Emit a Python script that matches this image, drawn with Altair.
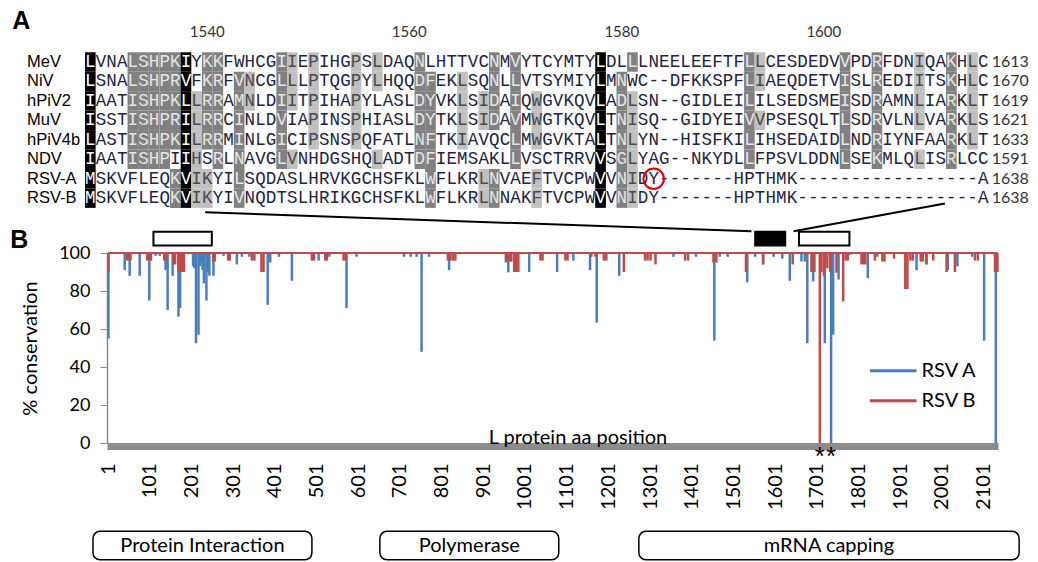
import altair as alt
import pandas as pd

# ------------------------------------------------------------------
# Panel A : alignment data
# ------------------------------------------------------------------
seq_names = ["MeV", "NiV", "hPiV2", "MuV", "hPiV4b", "NDV", "RSV-A", "RSV-B"]
seq_ends = [1613, 1670, 1619, 1621, 1633, 1591, 1638, 1638]
sequences = [
    "LVNALSHPKIYKKFWHCGIIEPIHGPSLDAQNLHTTVCNMVYTCYMTYLDLLLNEELEEFTFLLCESDEDVVPDRFDNIQAKHLC",
    "LSNALSHPRVFKRFVNCGLLLPTQGPYLHQQDFEKLSQNLLVTSYMIYLMNWC--DFKKSPFLIAEQDETVISLREDIITSKHLC",
    "IAATISHPKLLRRAMNLDIITPIHAPYLASLDYVKLSIDAIQWGVKQVLADLSN--GIDLEILILSEDSMEISDRAMNLIARKLT",
    "ISSTISHPRILRRCINLDVIAPINSPHIASLDYTKLSIDAVMWGTKQVLTNISQ--GIDYEIVVPSESQLTLSDRVLNLVARKLS",
    "LASTISHPKILRRMINLGICIPSNSPQFATLNFTKIAVQCLMWGVKTALTNLYN--HISFKILIHSEDAIDLNDRIYNFAARKLT",
    "IAATISHPIIHSRLNAVGLVNHDGSHQLADTDFIEMSAKLLVSCTRRVVSGLYAG--NKYDLLFPSVLDDNLSEKMLQLISRLCC",
    "MSKVFLEQKVIKYILSQDASLHRVKGCHSFKLWFLKRLNVAEFTVCPWVVNIDY-------HPTHMK-----------------A",
    "MSKVFLEQKVIKYIVNQDTSLHRIKGCHSFKLWFLKRLNNAKFTVCPWVVNIDY-------HPTHMK-----------------A",
]
ruler_labels = [1540, 1560, 1580, 1600]
ruler_columns = [11, 30, 50, 69]
# conservation class per alignment column, one character per sequence row
# '.' none, 'l' similar, 'd' conserved, 'b' identical
shading = {
    0: "bbbbbbbb", 4: "dddddd..", 5: "dddddd..", 6: "dddddd..", 7: "dddddd..",
    8: "ddddd.dd", 9: "bbbbbbbb", 10: "..llllll", 11: "ddddd.ll", 12: "dddddd..",
    14: ".ddddddd", 15: ".ll.....", 18: "dddddd..", 19: "lll..l..", 21: "lllll...",
    25: "lllll...", 27: "ll...l..", 31: "dddddd..", 32: ".ddddddd", 35: ".llll...",
    37: "..ll..ll", 38: "dddd..dd", 40: "dddddd..", 42: "..lll.ll", 48: "bbbbbbbb",
    50: ".ddddddd", 51: "d.llllll", 62: "dddddd..", 63: "ll.l....", 71: "dddddd..",
    74: "dddddd..", 78: "llll.l..", 81: "dddddd..", 83: "lllll...",
}
circled_row = 6
circled_col = 53

# ------------------------------------------------------------------
# Panel B : % conservation along the L protein
# ------------------------------------------------------------------
rsv_a_pos = [2, 41, 53, 77, 100, 115, 125, 139, 144, 156, 170, 174, 205, 208, 212, 218,
             222, 225, 228, 231, 237, 241, 244, 254, 278, 310, 322, 340, 384, 390, 411,
             442, 506, 532, 573, 597, 711, 727, 741, 753, 771, 819, 955, 961, 967, 1011,
             1078, 1117, 1157, 1173, 1227, 1357, 1411, 1455, 1468, 1487, 1534, 1553, 1572,
             1597, 1618, 1636, 1664, 1672, 1678, 1692, 1720, 1735, 1740, 1753, 1780, 1823,
             1846, 1940, 1963, 2015, 2038, 2073, 2102, 2130]
rsv_a_val = [55, 91, 88, 88, 75, 98.5, 98.5, 91, 70, 88, 66.5, 71, 93, 92, 52.5, 57,
             93, 95, 91, 84, 75, 90, 88, 88, 98.5, 94, 98, 98, 72.7, 95, 98,
             85.4, 96, 98, 71, 98, 98, 98, 98, 48, 98, 91, 95, 89.8, 95.5, 90,
             90, 96, 91, 63.4, 88, 98, 98, 53.9, 98, 98, 84.5, 98, 94,
             98, 97, 85.4, 95.5, 95.5, 52.5, 85, 52.5, 0, 57, 86, 99, 86.8,
             98, 91, 94, 91, 93, 98, 53.9, 0]
rsv_b_pos = [2, 47, 51, 55, 95, 100, 104, 136, 140, 158, 162, 170, 174, 178, 183, 253,
             257, 289, 293, 346, 352, 369, 374, 490, 495, 522, 526, 566, 571, 816, 822,
             828, 834, 956, 962, 968, 975, 980, 985, 1038, 1043, 1098, 1103, 1160, 1170,
             1190, 1196, 1238, 1289, 1295, 1302, 1314, 1385, 1392, 1453, 1460, 1531, 1572,
             1643, 1688, 1695, 1708, 1712, 1718, 1726, 1733, 1748, 1764, 1770, 1775, 1808,
             1812, 1817, 1840, 1858, 1863, 1886, 1913, 1918, 1925, 1931, 1950, 1955, 1964,
             1980, 2012, 2032, 2080, 2087, 2128, 2134]
rsv_b_val = [90, 96, 96, 96, 96, 96, 96, 96, 96, 94, 94, 90, 90, 90, 90, 95.5,
             95.5, 96, 96, 96, 96, 90, 90, 96, 96, 96, 96, 96, 96, 96, 96,
             96, 96, 95.5, 95.5, 95.5, 90, 90, 90, 96, 96, 96, 96, 98, 98,
             96, 96, 90, 96, 96, 96, 94, 96, 96, 95, 95, 90, 94,
             94, 90, 90, 0, 90, 88, 92, 90, 89.6, 74.5, 96, 96, 94,
             94, 94, 96, 95.5, 95.5, 97, 81, 81, 96, 96, 95.5, 95.5, 94,
             96, 90, 90, 96, 96, 90, 90]
protein_length = 2134
x_tick_labels = [1, 101, 201, 301, 401, 501, 601, 701, 801, 901, 1001, 1101, 1201,
                 1301, 1401, 1501, 1601, 1701, 1801, 1901, 2001, 2101]
y_tick_labels = [0, 20, 40, 60, 80, 100]
marked_sites = [1708, 1735]
domain_names = ["Protein Interaction", "Polymerase", "mRNA capping"]
domain_start = [-35, 653, 1274]
domain_end = [490, 1082, 2186]
region_start = [110, 1553, 1658]
region_end = [250, 1625, 1779]
region_kind = ["open", "alignment", "open"]
series_names = ["RSV A", "RSV B"]

# ------------------------------------------------------------------
# layout / style
# ------------------------------------------------------------------
BLUE = "#4A7EBB"
RED = "#BE4B48"
PLOT_LEFT, PLOT_TOP, PLOT_W, PLOT_H = 107, 253, 891, 190
CANVAS_W, CANVAS_H = 1022, 554
B_X_DOMAIN = [-1.4, 2135.3]
# alignment grid geometry (page pixels)
A_LEFT, A_CHAR_W, A_ROW0, A_ROW_H = 85, 10.63, 62, 19.45
ax_lo = (PLOT_LEFT - A_LEFT) / A_CHAR_W
ax_hi = (PLOT_LEFT + PLOT_W - A_LEFT) / A_CHAR_W
ay_lo = (PLOT_TOP - A_ROW0) / A_ROW_H
ay_hi = ay_lo + PLOT_H / A_ROW_H

fill_of = {"l": "#c0c0c0", "d": "#808080", "b": "#000000"}
ink_of = {".": "#23233f", "l": "#4a4a4a", "d": "#e6e6e6", "b": "#ffffff"}

# ------------------------------------------------------------------
# Panel A layers
# ------------------------------------------------------------------
cells = []
for r, seq in enumerate(sequences):
    for c, ch in enumerate(seq):
        s = shading.get(c, "........")[r]
        cells.append({"row": r, "col": c, "col_end": c + 1, "col_mid": c + 0.5,
                      "row_top": r - 0.5, "row_bot": r + 0.5, "ch": ch, "shade": s,
                      "fill": fill_of.get(s, "#ffffff"), "ink": ink_of[s]})
cells = pd.DataFrame(cells)

sx_a = alt.Scale(domain=[ax_lo, ax_hi], nice=False, zero=False)
sy_a = alt.Scale(domain=[ay_lo, ay_hi], nice=False, zero=False, reverse=True)

def XA(f):
    return alt.X(f, type="quantitative", scale=sx_a, axis=None)

def YA(f):
    return alt.Y(f, type="quantitative", scale=sy_a, axis=None)

shade_rects = alt.Chart(cells).transform_filter("datum.shade != '.'").mark_rect().encode(
    x=XA("col"), x2="col_end", y=YA("row_top"), y2="row_bot",
    color=alt.Color("fill:N", scale=None))

letters = alt.Chart(cells).mark_text(font="Liberation Mono", fontSize=17.5,
                                      align="center", baseline="middle").encode(
    x=XA("col_mid"), y=YA("row"), text="ch:N", color=alt.Color("ink:N", scale=None))

names_df = pd.DataFrame({"name": seq_names, "row": list(range(len(seq_names))),
                         "col": [-5.46] * len(seq_names)})
name_text = alt.Chart(names_df).mark_text(font="Liberation Sans", fontSize=16.5,
                                          align="left", baseline="middle", color="black").encode(
    x=XA("col"), y=YA("row"), text="name:N")

ends_df = pd.DataFrame({"end": [str(v) for v in seq_ends], "row": list(range(len(seq_ends))),
                        "col": [85.3] * len(seq_ends)})
end_text = alt.Chart(ends_df).mark_text(font="Lato", fontSize=16, align="left",
                                        baseline="middle", color="#333333").encode(
    x=XA("col"), y=YA("row"), text="end:N")

ruler_df = pd.DataFrame({"lab": [str(v) for v in ruler_labels],
                         "col": [c + 0.5 for c in ruler_columns],
                         "row": [-1.55] * len(ruler_labels)})
ruler_text = alt.Chart(ruler_df).mark_text(font="Lato", fontSize=15, align="center",
                                           baseline="middle", color="#333333").encode(
    x=XA("col"), y=YA("row"), text="lab:N")

a_label = alt.Chart(pd.DataFrame({"t": ["A"], "col": [-6.0], "row": [-2.1]})).mark_text(
    font="Liberation Sans", fontSize=25, fontWeight="bold", align="center",
    baseline="middle", color="black").encode(x=XA("col"), y=YA("row"), text="t:N")

circle = alt.Chart(pd.DataFrame({"col": [circled_col + 0.5], "row": [circled_row]})).mark_point(
    shape="circle", size=420, filled=False, stroke="#e00000", strokeWidth=2, opacity=1).encode(
    x=XA("col"), y=YA("row"))

panel_a = alt.layer(shade_rects, letters, name_text, end_text, ruler_text, a_label, circle)

# ------------------------------------------------------------------
# Panel B layers
# ------------------------------------------------------------------
sx_b = alt.Scale(domain=B_X_DOMAIN, nice=False, zero=False)
sy_b = alt.Scale(domain=[0, 100], nice=False, zero=False)
x_axis = alt.Axis(values=x_tick_labels, format="d", title=None, labelAngle=270,
                  labelFont="Lato", labelFontSize=20, labelColor="black", labelPadding=17,
                  ticks=False, tickSize=0, domainColor="#8c8c8c", domainWidth=7, grid=False,
                  orient="bottom", offset=3, labelFlush=False, labelOverlap=False,
                  labelBound=False)
y_axis = alt.Axis(values=y_tick_labels, format="d", title="% conservation", titleFont="Lato",
                  titleFontSize=20, titleFontWeight="normal", titleColor="black",
                  titlePadding=18, labelFont="Lato", labelFontSize=18, labelColor="black",
                  labelPadding=10, tickSize=7, tickColor="#8c8c8c", domainColor="#8c8c8c",
                  domainWidth=1.5, grid=False, orient="left")

def XB(f="pos"):
    return alt.X(f, type="quantitative", scale=sx_b, axis=x_axis)

def YB(f="value"):
    return alt.Y(f, type="quantitative", scale=sy_b, axis=y_axis)

dips = pd.concat([
    pd.DataFrame({"series": series_names[0], "pos": rsv_a_pos, "value": rsv_a_val}),
    pd.DataFrame({"series": series_names[1], "pos": rsv_b_pos, "value": rsv_b_val}),
])
dips["top"] = 100
baseline = pd.DataFrame({"series": series_names, "pos": [1, 1],
                         "pos_end": [protein_length, protein_length], "value": [100, 100]})

def series_layers(name, color):
    base_line = alt.Chart(baseline).transform_filter(f"datum.series == '{name}'").mark_rule(
        color=color, strokeWidth=2).encode(x=XB(), x2="pos_end", y=YB())
    spikes = alt.Chart(dips).transform_filter(f"datum.series == '{name}'").mark_rule(
        color=color, strokeWidth=2.5).encode(x=XB(), y=YB(), y2="top")
    return [base_line, spikes]

layers_b = series_layers("RSV A", BLUE) + series_layers("RSV B", RED)

# axis title placed inside plot
xt = alt.Chart(pd.DataFrame({"t": ["L protein aa position"], "pos": [1128], "value": [0]})).mark_text(
    font="Lato", fontSize=20, align="center", baseline="alphabetic", dy=1, color="black").encode(
    x=XB(), y=YB(), text="t:N")

stars = alt.Chart(pd.DataFrame({"pos": marked_sites, "value": [0] * len(marked_sites),
                                "t": ["*"] * len(marked_sites)})).mark_text(
    font="Liberation Sans", fontSize=26, align="center", baseline="top", dy=1,
    color="black").encode(x=XB(), y=YB(), text="t:N")

b_label = alt.Chart(pd.DataFrame({"t": ["B"], "pos": [-212], "value": [107]})).mark_text(
    font="Liberation Sans", fontSize=25, fontWeight="bold", align="center",
    baseline="middle", color="black").encode(x=XB(), y=YB(), text="t:N")

# region boxes above the profile
regions = pd.DataFrame({"pos": region_start, "pos_end": region_end, "kind": region_kind,
                        "value": [104] * 3, "value_top": [111.2] * 3})
regions["fill"] = regions["kind"].map({"open": "white", "alignment": "black"})
region_boxes = alt.Chart(regions).mark_rect(stroke="black", strokeWidth=2).encode(
    x=XB(), x2="pos_end", y=YB(), y2="value_top", color=alt.Color("fill:N", scale=None))

# zoom connectors from the alignment to the black region box
connectors = pd.DataFrame({"pos": [234, 1645], "value": [121.4, 111.4],
                           "pos_end": [1544, 2008], "value_end": [111.4, 126]})
connector_lines = alt.Chart(connectors).mark_rule(color="black", strokeWidth=2).encode(
    x=XB(), y=YB(), x2="pos_end", y2="value_end")

# legend
leg = pd.DataFrame({"series": series_names, "pos": [1828, 1828], "pos_end": [1940, 1940],
                    "value": [38, 22.2], "text_pos": [1952, 1952]})
leg["color"] = [BLUE, RED]
leg_lines = alt.Chart(leg).mark_rule(strokeWidth=3).encode(
    x=XB(), x2="pos_end", y=YB(), color=alt.Color("color:N", scale=None))
leg_text = alt.Chart(leg).mark_text(font="Lato", fontSize=20, align="left",
                                    baseline="middle", color="black").encode(
    x=XB("text_pos"), y=YB(), text="series:N")

# functional domains under the axis
doms = pd.DataFrame({"name": domain_names, "pos": domain_start, "pos_end": domain_end,
                     "value": [-46.5] * 3, "value_end": [-61.5] * 3})
doms["mid"] = (doms["pos"] + doms["pos_end"]) / 2
doms["vmid"] = (doms["value"] + doms["value_end"]) / 2
dom_boxes = alt.Chart(doms).mark_rect(fill="white", stroke="black", strokeWidth=1.5,
                                      cornerRadius=7).encode(
    x=XB(), x2="pos_end", y=YB(), y2="value_end")
dom_text = alt.Chart(doms).mark_text(font="Lato", fontSize=20, align="center",
                                     baseline="middle", color="black").encode(
    x=XB("mid"), y=YB("vmid"), text="name:N")

panel_b = alt.layer(*layers_b, xt, stars, b_label, region_boxes, connector_lines,
                    leg_lines, leg_text, dom_boxes, dom_text)

chart = alt.layer(panel_b, panel_a).resolve_scale(
    x="independent", y="independent"
).properties(
    width=PLOT_W, height=PLOT_H,
    padding={"left": PLOT_LEFT - 8, "top": PLOT_TOP - 8,
             "right": CANVAS_W - (PLOT_LEFT - 8) - PLOT_W,
             "bottom": CANVAS_H - (PLOT_TOP - 8) - PLOT_H},
    autosize=alt.AutoSizeParams(type="none"),
).configure_view(stroke=None)

chart.save("out.html", embed_options={"renderer": "svg", "actions": False})
